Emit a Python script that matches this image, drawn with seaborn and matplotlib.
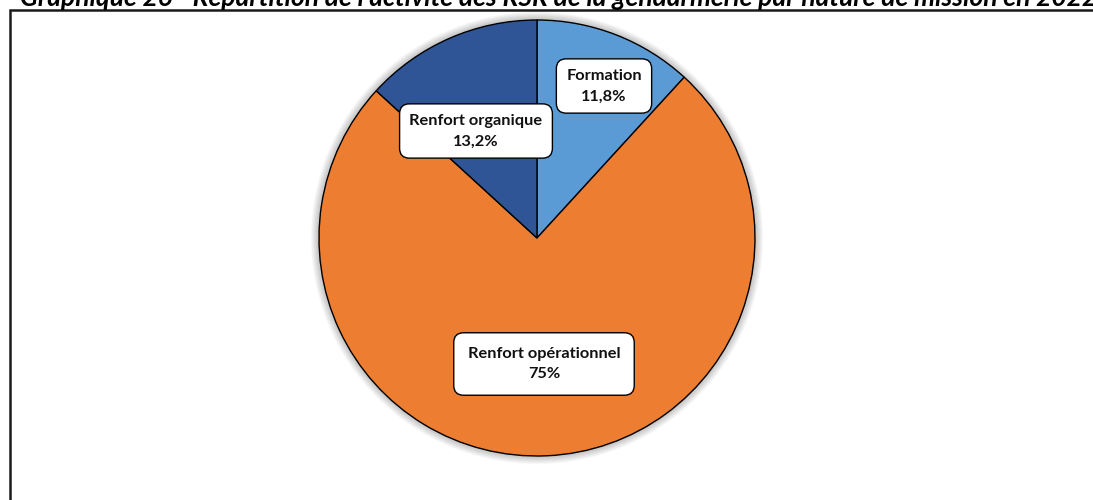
import matplotlib
matplotlib.use("Agg")
import matplotlib.pyplot as plt
from matplotlib.patches import Circle, Rectangle
import seaborn as sns

# Mission categories, in clockwise order from 12 o'clock
categories = ["Formation", "Renfort opérationnel", "Renfort organique"]
shares = [11.8, 75.0, 13.2]
share_labels = ["11,8%", "75%", "13,2%"]
colors = ["#5B9BD5", "#ED7D31", "#2F5597"]

title = ("Graphique 26 - Répartition de l'activité des RSR de la gendarmerie "
         "par nature de mission en 2022")

sns.set_theme(style="white")
plt.rcParams["font.family"] = ["Lato", "DejaVu Sans"]

W, H = 1093, 500
fig = plt.figure(figsize=(W / 100, H / 100), dpi=100)
ax = fig.add_axes([0, 0, 1, 1])

cx, cy, r = 537, H - 238, 218

wedges, _ = ax.pie(shares, colors=colors, startangle=90, counterclock=False,
                   center=(cx, cy), radius=r,
                   wedgeprops=dict(edgecolor="black", linewidth=1.0))
for w in wedges:
    w.set_zorder(3)

# pixel-like coordinate system (pie() resets the limits, so set them after)
ax.set_xlim(0, W)
ax.set_ylim(0, H)
ax.set_aspect("equal")
ax.axis("off")

# outer frame (extends past right and bottom edges)
ax.add_patch(Rectangle((10, -20), W + 20, H - 10 + 20, fill=False,
                       edgecolor="#1a1a1a", linewidth=1.8, zorder=1))

# soft shadow around the pie
for k in range(10):
    ax.add_patch(Circle((cx, cy), r + 1 + k * 0.8, color="black",
                        alpha=0.025, linewidth=0, zorder=2))

# data labels in rounded white boxes
label_pos = [(604, H - 86), (544, H - 364), (476, H - 131)]
label_pad = [0.6, 0.85, 0.6]
for cat, lab, (x, y), pad in zip(categories, share_labels, label_pos, label_pad):
    ax.text(x, y, f"{cat}\n{lab}", ha="center", va="center", fontsize=11.8,
            fontweight="bold", color="#111111", linespacing=1.6, zorder=5,
            bbox=dict(boxstyle=f"round,pad={pad},rounding_size=0.6",
                      facecolor="white", edgecolor="black", linewidth=1.0))

ax.text(20, H - 6, title, ha="left", va="baseline", fontsize=19,
        fontweight="bold", fontstyle="italic", color="black", zorder=6)

fig.savefig("out.png", dpi=100)
